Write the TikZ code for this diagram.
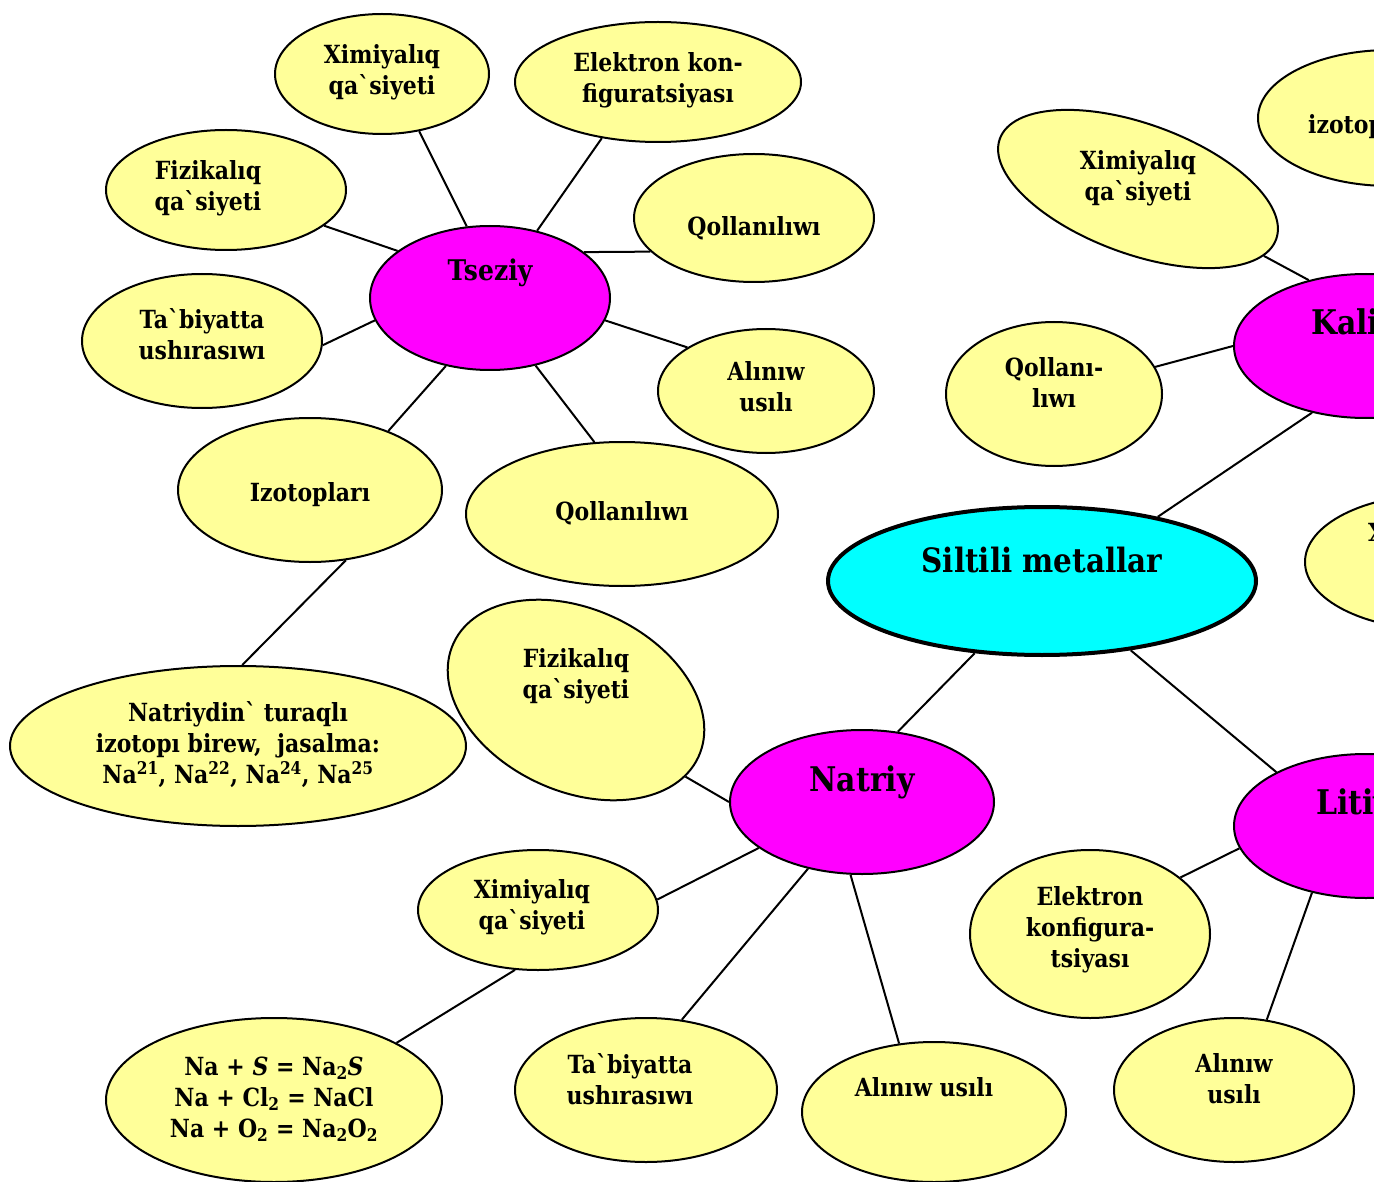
\documentclass[tikz,border=0pt]{standalone}
\usepackage{fontspec}
\newfontfamily\labfont{DejaVu Serif}[FakeStretch=0.88]
\usetikzlibrary{shapes.geometric}
\definecolor{pale}{HTML}{FFFF99}
\definecolor{mag}{HTML}{FF00FF}
\definecolor{cyn}{HTML}{00FFFF}
\tikzset{
  blob/.style={ellipse, draw=black, line width=2pt, inner sep=0pt},
  sz/.style 2 args={minimum width=#1, minimum height=#2},
  leaf/.style={blob, fill=pale},
  metal/.style={blob, fill=mag},
  root/.style={blob, fill=cyn, line width=4pt},
  txt/.style={font=\labfont\bfseries\fontsize{25}{31}\selectfont, align=center, inner sep=0pt},
  big/.style={font=\labfont\bfseries\fontsize{34}{40}\selectfont, inner sep=0pt},
  link/.style={line width=2pt},
}
\begin{document}
\begin{tikzpicture}[x=1pt, y=-1pt]
\useasboundingbox (0,0) rectangle (1374,1182);
\clip (0,0) rectangle (1374,1182);
\fill[white] (0,0) rectangle (1374,1182);

% Tseziy cluster
\node[metal, sz={240pt}{144pt}] (tsez) at (490,298) {};
\node[leaf, sz={214pt}{120pt}] (ximT) at (382,74) {};
\node[leaf, sz={286pt}{120pt}] (elekT) at (658,82) {};
\node[leaf, sz={240pt}{120pt}] (fizT) at (226,190) {};
\node[leaf, sz={240pt}{128pt}] (qolR) at (754,218) {};
\node[leaf, sz={240pt}{134pt}] (tabT) at (202,341) {};
\node[leaf, sz={216pt}{124pt}] (alT) at (766,391) {};
\node[leaf, sz={264pt}{144pt}] (izo) at (310,490) {};
\node[leaf, sz={312pt}{144pt}] (qolM) at (622,514) {};
\node[leaf, sz={456pt}{160pt}] (natIso) at (238,746) {};

% centre
\node[root, sz={428pt}{148pt}] (root) at (1042,581) {};

% Natriy cluster
\node[leaf, sz={270pt}{182pt}, rotate=-25] (fizN) at (576,700) {};
\node[metal, sz={264pt}{144pt}] (natriy) at (862,802) {};
\node[leaf, sz={240pt}{120pt}] (ximN) at (538,910) {};
\node[leaf, sz={336pt}{164pt}] (nas) at (274,1100) {};
\node[leaf, sz={262pt}{144pt}] (tabB) at (646,1090) {};
\node[leaf, sz={264pt}{140pt}] (alB) at (934,1112) {};

% Litiy cluster
\node[metal, sz={264pt}{144pt}] (liti) at (1366,826) {};
\node[leaf, sz={240pt}{168pt}] (elekL) at (1090,934) {};
\node[leaf, sz={240pt}{144pt}] (alL) at (1234,1090) {};
\node[leaf, sz={264pt}{135pt}] (ximR) at (1437,562) {};

% Kaliy cluster
\node[metal, sz={264pt}{144pt}] (kaliy) at (1366,346) {};
\node[leaf, sz={216pt}{144pt}] (qolK) at (1054,394) {};
\node[leaf, sz={294pt}{130pt}, rotate=-20] (ximK) at (1138,189) {};
\node[leaf, sz={264pt}{136pt}] (izoK) at (1390,118) {};

% connectors
\draw[link] (tsez.108.7) -- (ximT.-57.3);
\draw[link] (tsez.55.6) -- (elekT.-135);
\draw[link] (tsez.153.2) -- (fizT.-20.6);
\draw[link] (tsez.26.6) -- (qolR.198.8);
\draw[link] (tsez.191.5) -- (tabT.-2.4);
\draw[link] (tsez.-11.3) -- (alT.151.2);
\draw[link] (tsez.-123.7) -- (izo.37.3);
\draw[link] (tsez.-56.3) -- (qolM.111.3);
\draw[link] (izo.-63.4) -- (natIso.87.1);
\draw[link] (root.29.2) -- (kaliy.-129.8);
\draw[link] (root.-133.1) -- (natriy.63.4);
\draw[link] (root.-38.7) -- (liti.149);
\draw[link] (natriy.180) -- (fizN.-10.8);
\draw[link] (natriy.204) -- (ximN.5.7);
\draw[link] (natriy.-129.8) -- (tabB.63.4);
\draw[link] (natriy.-99.5) -- (alB.117.2);
\draw[link] (ximN.-111) -- (nas.25.8);
\draw[link] (liti.190.3) -- (elekL.32);
\draw[link] (liti.-129.8) -- (alL.65.4);
\draw[link] (kaliy.180) -- (qolK.15.4);
\draw[link] (kaliy.131.4) -- (ximK.-8.4);

% texts
\node[big, font=\labfont\bfseries\fontsize{28.5}{33}\selectfont] (tsez-l) at (490,273) {Tseziy};
\node[txt] (ximT-l) at (382,72) {Ximiyalıq\\qa`siyeti};
\node[txt] (elekT-l) at (658,80) {Elektron kon-\\figuratsiyası};
\node[txt] (fizT-l) at (208,188) {Fizikalıq\\qa`siyeti};
\node[txt] (qolR-l) at (754,228) {Qollanılıwı};
\node[txt] (tabT-l) at (202,334) {Ta`biyatta\\ushırasıwı};
\node[txt] (alT-l) at (766,387) {Alınıw\\usılı};
\node[txt] (izo-l) at (310,495) {Izotopları};
\node[txt] (qolM-l) at (622,513) {Qollanılıwı};
\node[txt] (natIso-l) at (238,745) {Natriydin` turaqlı\\izotopı birew,\ \ jasalma:\\Na\textsuperscript{21}, Na\textsuperscript{22}, Na\textsuperscript{24}, Na\textsuperscript{25}};
\node[big, font=\labfont\bfseries\fontsize{33.5}{38}\selectfont] (root-l) at (1042,560) {Siltili metallar};
\node[txt] (fizN-l) at (576,676) {Fizikalıq\\qa`siyeti};
\node[big] (natriy-l) at (862,782) {Natriy};
\node[txt] (ximN-l) at (532,907) {Ximiyalıq\\qa`siyeti};
\node[txt] (nas-l) at (274,1099) {Na + \textit{S} = Na\textsubscript{2}\textit{S}\\Na + Cl\textsubscript{2} = NaCl\\Na + O\textsubscript{2} = Na\textsubscript{2}O\textsubscript{2}};
\node[txt] (tabB-l) at (630,1079) {Ta`biyatta\\ushırasıwı};
\node[txt] (alB-l) at (924,1087) {Alınıw usılı};
\node[big, anchor=west] (liti-l) at (1316,805) {Litiy};
\node[txt] (elekL-l) at (1090,930) {Elektron\\konfigura-\\tsiyası};
\node[txt] (alL-l) at (1234,1079) {Alınıw\\usılı};
\node[txt, anchor=west] (ximR-l) at (1368,535) {Ximiyalıq};
\node[big, anchor=west] (kaliy-l) at (1311,325) {Kaliy};
\node[txt] (qolK-l) at (1054,383) {Qollanı-\\lıwı};
\node[txt] (ximK-l) at (1138,178) {Ximiyalıq\\qa`siyeti};
\node[txt, anchor=west] (izoK-l) at (1308,127) {izotopları};
\end{tikzpicture}
\end{document}
